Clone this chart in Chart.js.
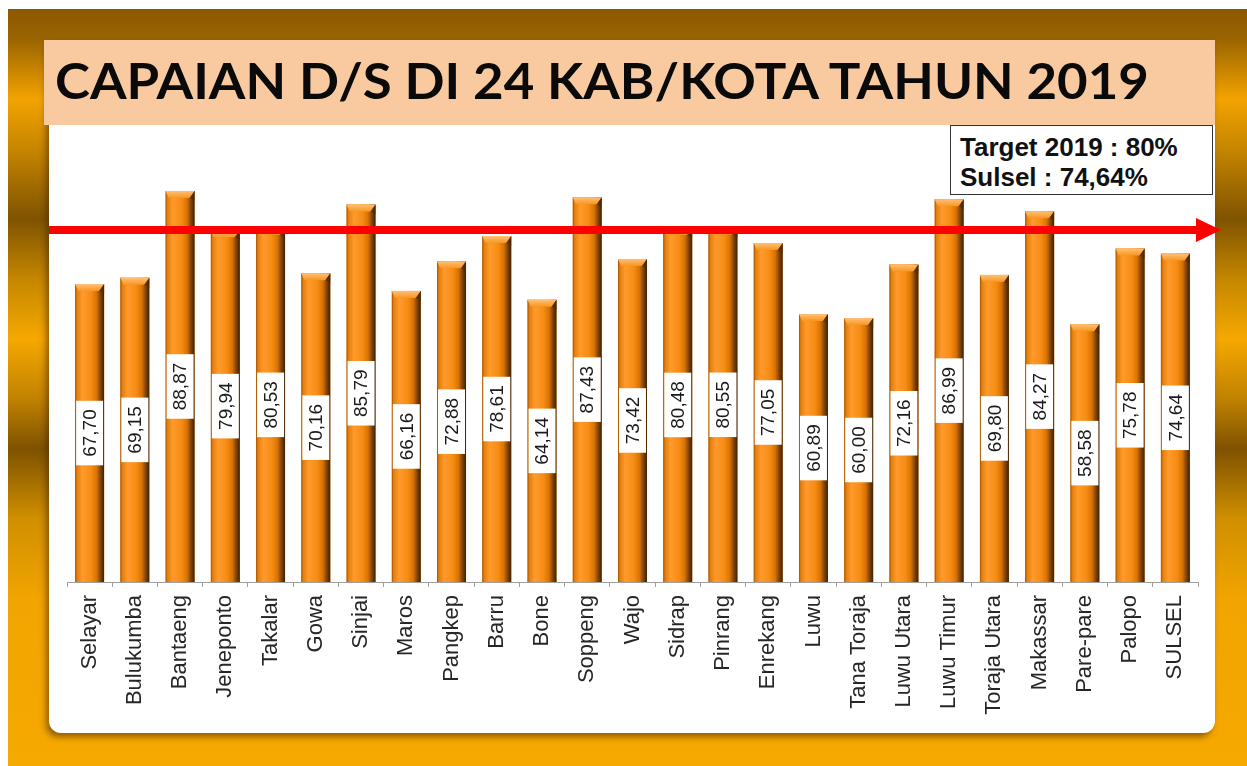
<!DOCTYPE html>
<html>
<head>
<meta charset="utf-8">
<script src="https://cdn.jsdelivr.net/npm/chart.js@4/dist/chart.umd.min.js"></script>
<style>
    body { margin: 0; width: 1247px; height: 766px; overflow: hidden; background: #fff; position: relative; font-family: "Liberation Sans", Arial, sans-serif; }
    #frame { position: absolute; left: 8px; top: 9px; right: 0; bottom: 0;
        background: linear-gradient(180deg, #8a5800 0px, #9a6400 30px, #f2a300 90px, #c68600 140px, #7f5300 210px,
            #c58700 270px, #f5a800 330px, #c08200 390px, #7e5200 440px, #d09000 510px, #f2a400 590px, #f6a900 757px); }
    #panel { position: absolute; left: 49px; top: 40px; width: 1166px; height: 693px; background: #fff;
        border-radius: 0 0 12px 12px; box-shadow: -3px 4px 6px rgba(70, 35, 0, .55); }
    #band { position: absolute; left: 44px; top: 40px; width: 1171px; height: 85px; background: #f9caa0; }
    #title { position: absolute; left: 55px; top: 55px; font-family: Lato, "Open Sans", sans-serif; font-weight: 700;
        font-size: 50px; line-height: 50px; color: #0a0a0a; white-space: nowrap; transform-origin: 0 0; }
    #note { position: absolute; left: 950px; top: 125px; width: 263px; height: 70px; box-sizing: border-box;
        border: 1.5px solid #333; background: #fff; padding: 6px 0 0 9px; font-weight: bold; font-size: 26px; line-height: 30px; color: #111; }
    #wrap { position: absolute; left: 49px; top: 125px; width: 1181px; height: 608px; }
</style>
</head>
<body>
<div id="frame"></div>
<div id="panel"></div>
<div id="band"></div>
<div id="title">CAPAIAN D/S DI 24 KAB/KOTA TAHUN 2019</div>
<div id="note">Target 2019 : 80%<br>Sulsel : 74,64%</div>
<div id="wrap"><canvas id="chart" width="1181" height="608"></canvas></div>
<script>
// Data
const regions = ['Selayar', 'Bulukumba', 'Bantaeng', 'Jeneponto', 'Takalar', 'Gowa', 'Sinjai', 'Maros',
    'Pangkep', 'Barru', 'Bone', 'Soppeng', 'Wajo', 'Sidrap', 'Pinrang', 'Enrekang', 'Luwu', 'Tana Toraja',
    'Luwu Utara', 'Luwu Timur', 'Toraja Utara', 'Makassar', 'Pare-pare', 'Palopo', 'SULSEL'];
const dsValues = [67.70, 69.15, 88.87, 79.94, 80.53, 70.16, 85.79, 66.16, 72.88, 78.61, 64.14, 87.43,
    73.42, 80.48, 80.55, 77.05, 60.89, 60.00, 72.16, 86.99, 69.80, 84.27, 58.58, 75.78, 74.64];
const target = 80;
const yMin = 0;
const yMax = 100;

// Fit title to the band width
const title = document.getElementById('title');
title.style.transform = `scaleX(${1094 / title.offsetWidth})`;

function fmt(v) {
    return v.toFixed(2).replace('.', ',');
}

// 3D-ish bar shading
function shadeBar(ctx, x, y, base, w) {
    const l = x - w / 2, r = x + w / 2;
    const g = ctx.createLinearGradient(l, 0, r, 0);
    g.addColorStop(0, '#9c5000');
    g.addColorStop(0.06, '#e47d0a');
    g.addColorStop(0.25, '#ff9a2c');
    g.addColorStop(0.55, '#f68c14');
    g.addColorStop(0.74, '#d97300');
    g.addColorStop(0.86, '#8a4800');
    g.addColorStop(1, '#3f2000');
    ctx.fillStyle = g;
    ctx.fillRect(l, y, w, base - y);

    const b = 7;
    const cg = ctx.createLinearGradient(0, y, 0, y + b);
    cg.addColorStop(0, '#ffc078');
    cg.addColorStop(1, '#f7961f');
    ctx.fillStyle = cg;
    ctx.beginPath();
    ctx.moveTo(l, y);
    ctx.lineTo(r, y);
    ctx.lineTo(r - 5, y + b);
    ctx.lineTo(l + 3, y + b);
    ctx.closePath();
    ctx.fill();

    ctx.fillStyle = 'rgba(80, 40, 0, 0.6)';
    ctx.beginPath();
    ctx.moveTo(r, y);
    ctx.lineTo(r, y + b + 3);
    ctx.lineTo(r - 5, y + b);
    ctx.closePath();
    ctx.fill();
}

const barStyle = {
    id: 'barStyle',
    afterDatasetsDraw(chart) {
        const ctx = chart.ctx;
        const meta = chart.getDatasetMeta(0);
        ctx.save();
        meta.data.forEach((bar, i) => {
            const { x, y, base, width } = bar.getProps(['x', 'y', 'base', 'width'], true);
            shadeBar(ctx, x, y, base, width);

            // value label box
            const text = fmt(dsValues[i]);
            ctx.font = '19px "Liberation Sans", Arial, sans-serif';
            const tw = ctx.measureText(text).width;
            const h = tw + 17;
            const bw = width - 2;
            const cy = (y + base) / 2;
            ctx.fillStyle = '#fff';
            ctx.fillRect(x - bw / 2, cy - h / 2, bw, h);
            ctx.save();
            ctx.translate(x, cy);
            ctx.rotate(-Math.PI / 2);
            ctx.fillStyle = '#1a1a1a';
            ctx.textAlign = 'center';
            ctx.textBaseline = 'middle';
            ctx.fillText(text, 0, 1);
            ctx.restore();
        });
        ctx.restore();
    },
    afterDraw(chart) {
        // target arrow
        const ctx = chart.ctx;
        const yT = chart.scales.y.getPixelForValue(target);
        const headX = chart.chartArea.right - 2;
        ctx.save();
        ctx.fillStyle = '#ff0000';
        ctx.fillRect(0, yT - 4, headX, 8);
        ctx.beginPath();
        ctx.moveTo(headX, yT - 12);
        ctx.lineTo(headX + 25, yT);
        ctx.lineTo(headX, yT + 12);
        ctx.closePath();
        ctx.fill();
        ctx.restore();
    }
};

new Chart(document.getElementById('chart'), {
    type: 'bar',
    data: {
        labels: regions,
        datasets: [{
            data: dsValues,
            backgroundColor: '#f28a12',
            borderWidth: 0,
            barPercentage: 0.64,
            categoryPercentage: 1
        }]
    },
    options: {
        responsive: false,
        animation: false,
        devicePixelRatio: 1,
        layout: { padding: { left: 18, right: 32, top: 17, bottom: 0 } },
        plugins: { legend: { display: false }, tooltip: { enabled: false } },
        scales: {
            x: {
                offset: true,
                grid: { display: true, drawOnChartArea: false, drawTicks: true, tickLength: 5, color: '#a0a0a0', offset: true },
                border: { display: true, color: '#a0a0a0' },
                ticks: {
                    autoSkip: false,
                    minRotation: 90,
                    maxRotation: 90,
                    padding: 8,
                    color: '#262626',
                    font: { family: '"Liberation Sans", Arial, sans-serif', size: 22 }
                },
                afterFit(scale) { scale.height = 151; }
            },
            y: { display: false, min: yMin, max: yMax }
        }
    },
    plugins: [barStyle]
});
</script>
</body>
</html>
